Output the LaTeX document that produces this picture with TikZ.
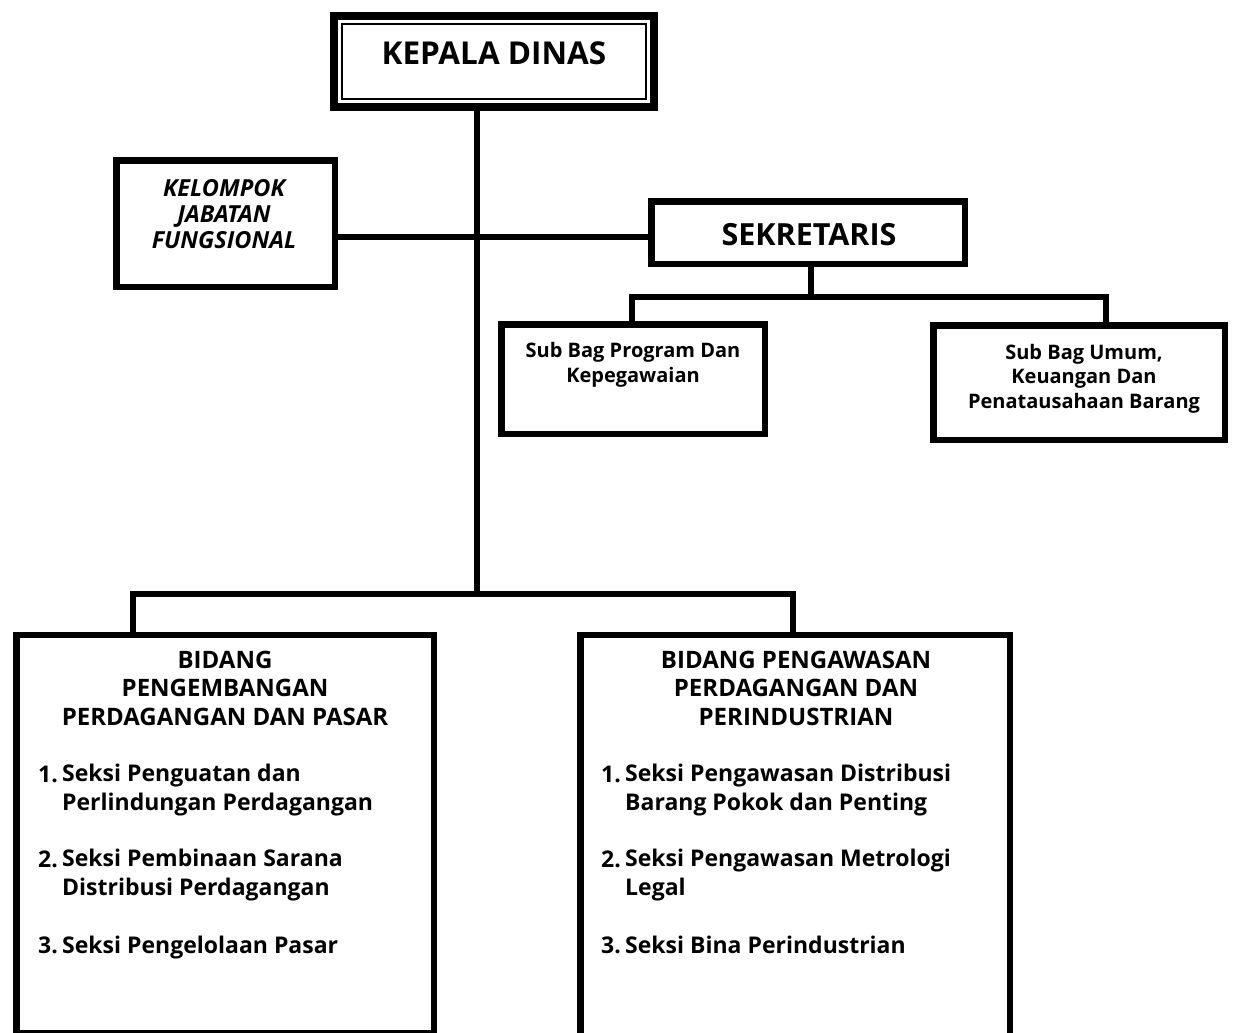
\documentclass[tikz,border=0pt]{standalone}
\usepackage{fontspec}
\setmainfont{Open Sans}
\begin{document}
\begin{tikzpicture}[x=1pt,y=-1pt,
  orgbox/.style={draw, rectangle, line width=6.5pt, inner sep=0pt},
  conn/.style={line width=6.5pt, line join=miter},
  bigtxt/.style={inner sep=0pt, anchor=base, font=\fontsize{31.5}{38}\selectfont\bfseries},
  fungtxt/.style={inner sep=0pt, anchor=base, align=center, font=\fontsize{23.5}{26}\selectfont\bfseries\itshape},
  subtxt/.style={inner sep=0pt, anchor=base, align=center, font=\fontsize{20}{24.5}\selectfont\bfseries},
  bidtxt/.style={inner sep=0pt, anchor=base, align=center, font=\fontsize{24}{28.5}\selectfont\bfseries},
  itemtxt/.style={inner sep=0pt, anchor=base west, align=left, font=\fontsize{23}{28.5}\selectfont\bfseries}]
\useasboundingbox (0,0) rectangle (1234,1033);
\clip (0,0) rectangle (1234,1033);

% boxes
\node[orgbox, line width=8pt, minimum width=320pt, minimum height=91pt] (kepala) at (494,61.5) {};
\draw[line width=2pt] ([shift={(12,12)}]kepala.north west) rectangle ([shift={(-12,-12)}]kepala.south east);
\node[orgbox, minimum width=218.5pt, minimum height=126.5pt] (kelompok) at (225.5,223.5) {};
\node[orgbox, minimum width=313.5pt, minimum height=62.5pt] (sekretaris) at (808,232.5) {};
\node[orgbox, minimum width=263.5pt, minimum height=109.5pt] (subprog) at (633,379) {};
\node[orgbox, minimum width=291.5pt, minimum height=114.5pt] (subumum) at (1079,382.5) {};
\node[orgbox, minimum width=417.5pt, minimum height=397.75pt] (bidang1) at (225,834.1) {};
\node[orgbox, minimum width=429.5pt, minimum height=414.75pt] (bidang2) at (795,842.6) {};

% junctions
\coordinate (jmain) at (477,594);
\coordinate (jks) at (477,237);
\coordinate (jsek) at (811,297);
\coordinate (jsl) at (632,297);
\coordinate (jsr) at (1106,297);
\coordinate (jbl) at (133,594);
\coordinate (jbr) at (793,594);

% connectors
\draw[conn] (jmain |- kepala.south) -- (jmain);
\draw[conn] (kelompok.east |- jks) -- (sekretaris.west |- jks);
\draw[conn] (jsek |- sekretaris.south) -- (jsek);
\draw[conn] (jsl |- subprog.north) -- (jsl) -- (jsr) -- (jsr |- subumum.north);
\draw[conn] (jbl |- bidang1.north) -- (jbl) -- (jbr) -- (jbr |- bidang2.north);

% texts (anchor=base on a multi-line node is the last line's baseline)
\node[bigtxt] (tkepala) at (494,65) {KEPALA DINAS};
\node[fungtxt] (tkelompok) at (224,248) {KELOMPOK\\JABATAN\\FUNGSIONAL};
\node[bigtxt, font=\fontsize{30.5}{36}\selectfont\bfseries] (tsekretaris) at (809,245) {SEKRETARIS};
\node[subtxt] (tsubprog) at (633,382) {Sub Bag Program Dan\\Kepegawaian};
\node[subtxt] (tsubumum) at (1084,408) {Sub Bag Umum,\\Keuangan Dan\\Penatausahaan Barang};

\node[bidtxt] (tbid1) at (225,725) {BIDANG\\PENGEMBANGAN\\PERDAGANGAN DAN PASAR};
\node[itemtxt] (n11) at (38,782) {1.};
\node[itemtxt] (i11) at (62,810) {Seksi Penguatan dan\\Perlindungan Perdagangan};
\node[itemtxt] (n12) at (38,867) {2.};
\node[itemtxt] (i12) at (62,895) {Seksi Pembinaan Sarana\\Distribusi Perdagangan};
\node[itemtxt] (n13) at (38,953) {3.};
\node[itemtxt] (i13) at (62,953) {Seksi Pengelolaan Pasar};

\node[bidtxt] (tbid2) at (796,725) {BIDANG PENGAWASAN\\PERDAGANGAN DAN\\PERINDUSTRIAN};
\node[itemtxt] (n21) at (601,782) {1.};
\node[itemtxt] (i21) at (625,810) {Seksi Pengawasan Distribusi\\Barang Pokok dan Penting};
\node[itemtxt] (n22) at (601,867) {2.};
\node[itemtxt] (i22) at (625,895) {Seksi Pengawasan Metrologi\\Legal};
\node[itemtxt] (n23) at (601,953) {3.};
\node[itemtxt] (i23) at (625,953) {Seksi Bina Perindustrian};
\end{tikzpicture}
\end{document}
